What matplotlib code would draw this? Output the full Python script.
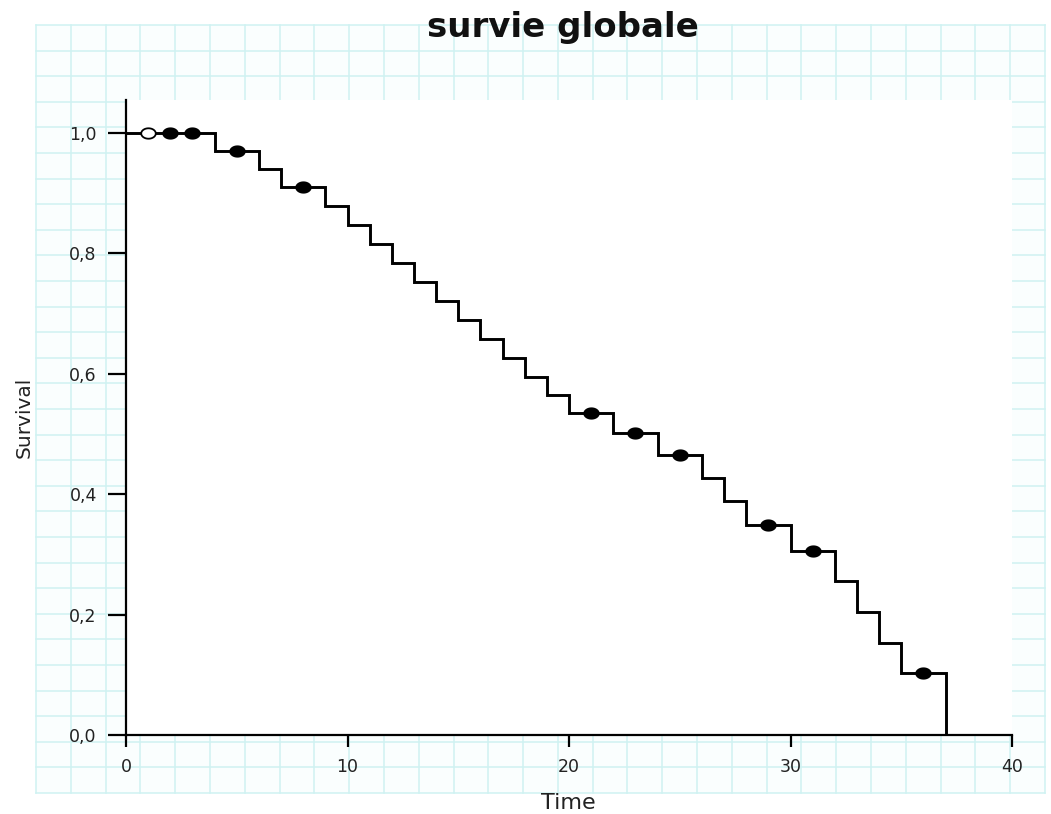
import numpy as np
import matplotlib
matplotlib.use("Agg")
import matplotlib.pyplot as plt

# Kaplan-Meier estimate: event times and survival just after each event
event_times = [0, 4, 6, 7, 9, 10, 11, 12, 13, 14, 15, 16, 17, 18, 19, 20,
               22, 24, 26, 27, 28, 30, 32, 33, 34, 35, 37]
survival = [1.0, 0.970, 0.940, 0.910, 0.878, 0.847, 0.815, 0.784, 0.752,
            0.721, 0.690, 0.658, 0.627, 0.595, 0.565, 0.535, 0.502, 0.465,
            0.427, 0.388, 0.349, 0.305, 0.256, 0.204, 0.153, 0.103, 0.0]

# censored observations (the first one drawn as an open mark)
censor_times = [1, 2, 3, 5, 8, 21, 23, 25, 29, 31, 36]
censor_open = [True] + [False] * 10

x_ticks = [0, 10, 20, 30, 40]
x_labels = ["0", "10", "20", "30", "40"]
y_ticks = [0.0, 0.2, 0.4, 0.6, 0.8, 1.0]
y_labels = ["0,0", "0,2", "0,4", "0,6", "0,8", "1,0"]

W, H = 1051, 814
fig = plt.figure(figsize=(W / 100, H / 100), dpi=100)
fig.patch.set_facecolor("white")

# graph-paper backdrop behind the whole figure
bg = fig.add_axes([0, 0, 1, 1], zorder=0)
bg.set_xlim(0, W)
bg.set_ylim(H, 0)
bg.set_axis_off()
gx0, gx1, gy0, gy1 = 36, 1045, 25, 793
bg.fill_between([gx0, gx1], gy0, gy1, color="#fafefe", lw=0)
for gx in np.linspace(gx0, gx1, 30):
    bg.plot([gx, gx], [gy0, gy1], color="#cff2f2", lw=1.1)
for gy in np.linspace(gy0, gy1, 31):
    bg.plot([gx0, gx1], [gy, gy], color="#cff2f2", lw=1.1)

# main plotting area
left, right = 126 / W, 1012 / W
bottom, top = (H - 735) / H, (H - 100) / H
ax = fig.add_axes([left, bottom, right - left, top - bottom], zorder=1)
ax.set_facecolor("white")

ax.step(event_times, survival, where="post", color="black", lw=2.1,
        solid_joinstyle="miter", zorder=3)

# censoring marks sit on the curve
ct = np.asarray(censor_times, dtype=float)
idx = np.searchsorted(event_times, ct, side="right") - 1
cs = np.asarray(survival)[idx]
theta = np.linspace(0, 2 * np.pi, 40)
ellipse = np.column_stack([1.4 * np.cos(theta), np.sin(theta)])
for t, s, hollow in zip(ct, cs, censor_open):
    ax.plot(t, s, marker=ellipse, markersize=10.5, linestyle="none",
            markerfacecolor="white" if hollow else "black",
            markeredgecolor="black", markeredgewidth=1.3, zorder=4)

ax.set_xlim(0, 40)
ax.set_ylim(0, 1.0548)
ax.spines["top"].set_visible(False)
ax.spines["right"].set_visible(False)
for sp in ("left", "bottom"):
    ax.spines[sp].set_linewidth(1.6)
    ax.spines[sp].set_color("black")

ax.set_xticks(x_ticks)
ax.set_xticklabels(x_labels)
ax.set_yticks(y_ticks)
ax.set_yticklabels(y_labels)
ax.tick_params(axis="x", direction="out", length=8.5, width=1.6, pad=8,
               labelsize=12.5, labelcolor="#222222")
ax.tick_params(axis="y", direction="out", length=13, width=1.6, pad=8,
               labelsize=12.5, labelcolor="#222222")

fig.text(563 / W, 1 - 37 / H, "survie globale", ha="center", va="baseline",
         fontsize=24.5, fontweight="bold", color="#111111")
fig.text(568 / W, 1 - 803 / H, "Time", ha="center", va="center",
         fontsize=16, color="#222222")
fig.text(24 / W, 1 - 417 / H, "Survival", ha="center", va="center",
         rotation=90, fontsize=14.5, color="#222222")

fig.savefig("out.png", dpi=100)
